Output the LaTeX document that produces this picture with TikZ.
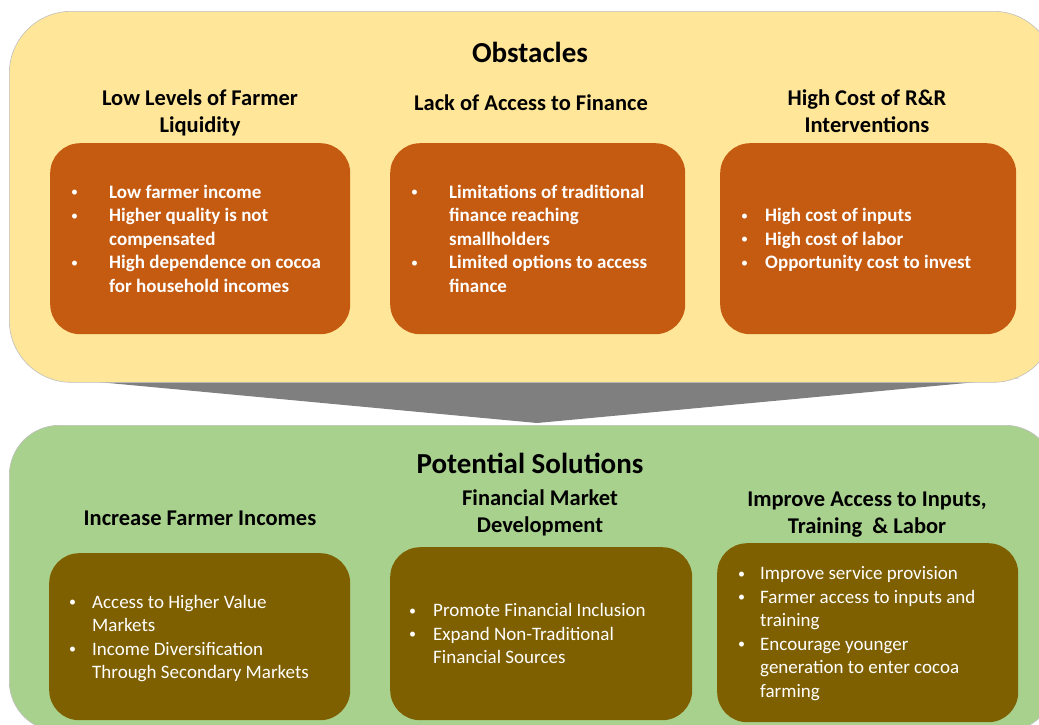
\documentclass[tikz,border=0pt]{standalone}
\usepackage{fontspec}
\setmainfont{Carlito}
\definecolor{ypanel}{HTML}{FFE699}
\definecolor{gpanel}{HTML}{A9D18E}
\definecolor{obox}{HTML}{C55A11}
\definecolor{olbox}{HTML}{7F6000}
\definecolor{funnel}{HTML}{7F7F7F}
\newcommand{\mybul}{\raisebox{1.3pt}{\fontsize{14pt}{14pt}\selectfont\mdseries\textbullet}}
\begin{document}
\begin{tikzpicture}[x=1pt,y=-1pt,
  panel/.style={draw=black!25, line width=0.6pt, rectangle, anchor=north west, inner sep=0pt},
  boxo/.style={rectangle, rounded corners=30pt, anchor=north west, inner sep=0pt, fill=obox},
  boxs/.style={rectangle, rounded corners=30pt, anchor=north west, inner sep=0pt, fill=olbox},
  titletxt/.style={anchor=base, inner sep=0pt, font=\fontsize{29pt}{35pt}\selectfont\bfseries},
  headtxt/.style={anchor=base, inner sep=0pt, font=\fontsize{22.5pt}{27pt}\selectfont\bfseries},
  otext/.style={anchor=base west, inner sep=0pt, text=white, font=\fontsize{19pt}{23.5pt}\selectfont\bfseries},
  stext/.style={anchor=base west, inner sep=0pt, text=white, font=\fontsize{19pt}{23.5pt}\selectfont},
]
\useasboundingbox (0,0) rectangle (1039,724);
\clip (0,0) rectangle (1039,724);

% funnel between the two panels
\coordinate (fl) at (55,378);
\coordinate (fr) at (1020,378);
\coordinate (ft) at (537,423);
\fill[funnel] (fl) -- (ft) -- (fr) -- cycle;

% panels
\node[panel, fill=ypanel, rounded corners=62pt, minimum width=1046pt, minimum height=371pt] (obs) at (9,11) {};
\node[panel, fill=gpanel, rounded corners=50pt, minimum width=1046pt, minimum height=306pt] (sol) at (9,425) {};

% obstacle boxes
\node[boxo, minimum width=300pt, minimum height=191pt] (ob1) at (50,143) {};
\node[boxo, minimum width=295pt, minimum height=191pt] (ob2) at (390,143) {};
\node[boxo, minimum width=296pt, minimum height=191pt] (ob3) at (720,143) {};

% solution boxes
\node[boxs, minimum width=301pt, minimum height=167pt] (sb1) at (49,553) {};
\node[boxs, minimum width=302pt, minimum height=173pt] (sb2) at (390,547) {};
\node[boxs, minimum width=301pt, minimum height=179pt] (sb3) at (717,543) {};

% headings
\node[titletxt] (tobs) at (530,62) {Obstacles};
\node[headtxt] (h1) at (200,105.5) {\begin{tabular}[t]{@{}c@{}}Low Levels of Farmer\\Liquidity\end{tabular}};
\node[headtxt] (h2) at (531,110.5) {Lack of Access to Finance};
\node[headtxt] (h3) at (867,105.5) {\begin{tabular}[t]{@{}c@{}}High Cost of R\&R\\Interventions\end{tabular}};

\node[titletxt] (tsol) at (530,473) {Potential Solutions};
\node[headtxt] (g1) at (200,525.5) {Increase Farmer Incomes};
\node[headtxt] (g2) at (540,505) {\begin{tabular}[t]{@{}c@{}}Financial Market\\Development\end{tabular}};
\node[headtxt] (g3) at (867,506.5) {\begin{tabular}[t]{@{}c@{}}Improve Access to Inputs,\\Training\ \ \& Labor\end{tabular}};

% obstacle texts
\node[otext] (t1) at (71,198) {\begin{tabular}[t]{@{}p{38pt}@{}l@{}}
\mybul & Low farmer income\\
\mybul & Higher quality is not\\
 & compensated\\
\mybul & High dependence on cocoa\\
 & for household incomes
\end{tabular}};
\node[otext] (t2) at (411,198) {\begin{tabular}[t]{@{}p{38pt}@{}l@{}}
\mybul & Limitations of traditional\\
 & finance reaching\\
 & smallholders\\
\mybul & Limited options to access\\
 & finance
\end{tabular}};
\node[otext] (t3) at (741,221.5) {\begin{tabular}[t]{@{}p{24pt}@{}l@{}}
\mybul & High cost of inputs\\
\mybul & High cost of labor\\
\mybul & Opportunity cost to invest
\end{tabular}};

% solution texts
\node[stext] (s1) at (69,608) {\begin{tabular}[t]{@{}p{23pt}@{}l@{}}
\mybul & Access to Higher Value\\
 & Markets\\
\mybul & Income Diversification\\
 & Through Secondary Markets
\end{tabular}};
\node[stext] (s2) at (409,616.5) {\begin{tabular}[t]{@{}p{24pt}@{}l@{}}
\mybul & Promote Financial Inclusion\\
\mybul & Expand Non-Traditional\\
 & Financial Sources
\end{tabular}};
\node[stext] (s3) at (738,579.5) {\begin{tabular}[t]{@{}p{22pt}@{}l@{}}
\mybul & Improve service provision\\
\mybul & Farmer access to inputs and\\
 & training\\
\mybul & Encourage younger\\
 & generation to enter cocoa\\
 & farming
\end{tabular}};
\end{tikzpicture}
\end{document}
